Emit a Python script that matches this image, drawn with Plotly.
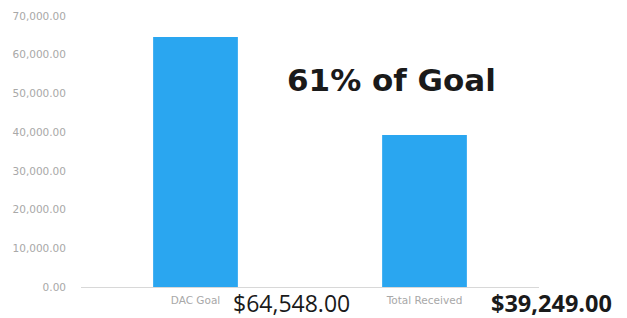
import plotly.graph_objects as go

categories = ["DAC Goal", "Total Received"]
values = [64548.00, 39249.00]
tick_values = [0, 10000, 20000, 30000, 40000, 50000, 60000, 70000]
tick_labels = [f"{v:,.2f}" for v in tick_values]
pct = round(values[1] / values[0] * 100)

fig = go.Figure()
fig.add_trace(go.Bar(
    x=categories, y=values,
    marker=dict(color="#2AA6F0", line=dict(width=0)),
    width=0.37,
    hoverinfo="skip",
))

fig.update_layout(
    width=627, height=318,
    margin=dict(l=81, r=88, t=16, b=31),
    paper_bgcolor="white", plot_bgcolor="white",
    showlegend=False,
    font=dict(family="DejaVu Sans, sans-serif"),
)
fig.update_xaxes(
    range=[-0.5, 1.5], automargin=False,
    showline=True, linecolor="#d8d8d8", linewidth=1,
    showgrid=False, ticks="",
    tickfont=dict(size=10.5, color="#a8a8a8"),
    ticklabelstandoff=3,
)
fig.update_yaxes(
    range=[0, 70000], automargin=False,
    tickvals=tick_values, ticktext=tick_labels,
    showgrid=False, zeroline=False, showline=False,
    tickfont=dict(size=10.5, color="#a8a8a8"),
    ticklabelstandoff=14,
)

fig.add_annotation(
    xref="x", yref="y", x=0.856, y=53450,
    text=f"<b>{pct}% of Goal</b>", showarrow=False,
    font=dict(family="DejaVu Sans, Arial, sans-serif", size=31, color="#1a1a1a"),
    xanchor="center", yanchor="middle",
)
fig.add_annotation(
    xref="x", yref="paper", x=0, y=0,
    text=f"${values[0]:,.2f}", showarrow=False,
    font=dict(family="Open Sans, sans-serif", size=23, color="#1a1a1a"),
    xanchor="left", yanchor="bottom", xshift=36, yshift=-33, borderpad=0,
)
fig.add_annotation(
    xref="x", yref="paper", x=1, y=0,
    text=f"<b>${values[1]:,.2f}</b>", showarrow=False,
    font=dict(family="Open Sans, sans-serif", size=23.5, color="#1a1a1a"),
    xanchor="left", yanchor="bottom", xshift=65, yshift=-33, borderpad=0,
)

fig.write_html(
    "out.html",
    config={"displayModeBar": False},
    post_script="document.body.style.margin='0';document.body.style.overflow='hidden';",
)
